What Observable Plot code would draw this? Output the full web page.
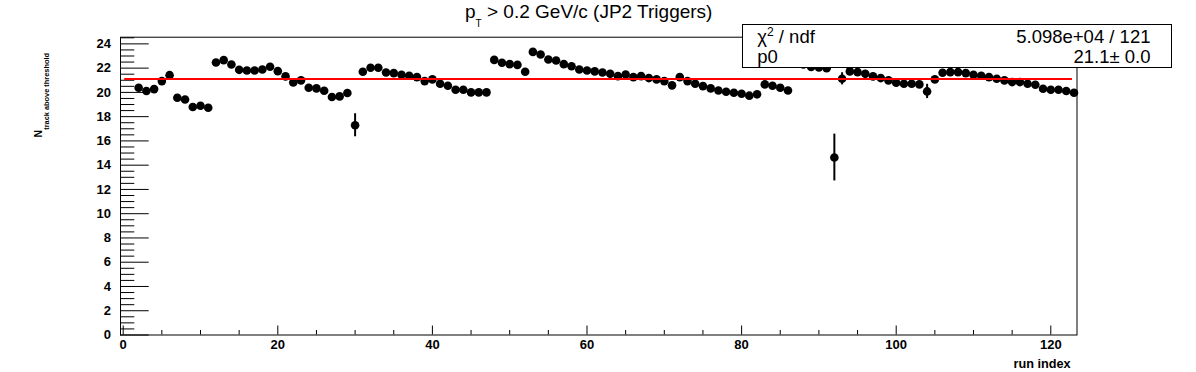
<!DOCTYPE html>
<html><head><meta charset="utf-8">
<script src="https://cdn.jsdelivr.net/npm/d3@7"></script>
<script src="https://cdn.jsdelivr.net/npm/@observablehq/plot@0.6"></script>
<style>
html,body{margin:0;padding:0;background:#fff;}
#chart{position:relative;width:1196px;height:372px;}
#chart g[aria-label="y-axis tick label"] text, #chart g[aria-label="x-axis tick label"] text{font-weight:bold;}
</style></head><body><div id="chart"></div>
<script>
// ---- data ----
const runIndex = [2,3,4,5,6,7,8,9,10,11,12,13,14,15,16,17,18,19,20,21,22,23,24,25,26,27,28,29,30,31,32,33,34,35,36,37,38,39,40,41,42,43,44,45,46,47,48,49,50,51,52,53,54,55,56,57,58,59,60,61,62,63,64,65,66,67,68,69,70,71,72,73,74,75,76,77,78,79,80,81,82,83,84,85,86,87,88,89,90,91,92,93,94,95,96,97,98,99,100,101,102,103,104,105,106,107,108,109,110,111,112,113,114,115,116,117,118,119,120,121,122,123];
const nTrack = [20.38,20.11,20.27,20.93,21.42,19.56,19.42,18.79,18.90,18.74,
  22.47,22.66,22.30,21.86,21.81,21.81,21.89,22.11,21.75,21.32,
  20.82,20.99,20.38,20.33,20.14,19.62,19.67,19.95,17.29,21.70,
  22.03,22.03,21.64,21.59,21.45,21.37,21.26,20.93,21.07,20.71,
  20.55,20.22,20.22,20.00,20.00,20.00,22.68,22.44,22.33,22.27,
  21.70,23.34,23.12,22.71,22.63,22.33,22.16,21.89,21.81,21.73,
  21.64,21.53,21.34,21.48,21.26,21.34,21.18,21.07,20.93,20.58,
  21.26,20.93,20.71,20.52,20.33,20.16,20.05,19.97,19.89,19.73,
  19.84,20.66,20.55,20.38,20.16,22.50,22.30,22.10,22.05,22.00,
  14.63,21.12,21.73,21.67,21.53,21.32,21.18,20.99,20.79,20.71,
  20.71,20.66,20.08,21.07,21.62,21.67,21.67,21.59,21.45,21.37,
  21.26,21.12,20.99,20.85,20.85,20.71,20.63,20.30,20.22,20.22,
  20.11,19.97];
const nTrackErr = [0.15,0.15,0.15,0.15,0.15,0.15,0.15,0.15,0.15,0.15,
  0.15,0.15,0.15,0.15,0.15,0.15,0.15,0.15,0.15,0.15,
  0.15,0.15,0.15,0.15,0.15,0.15,0.15,0.15,0.95,0.15,
  0.15,0.15,0.15,0.15,0.15,0.15,0.15,0.15,0.15,0.15,
  0.15,0.15,0.15,0.15,0.15,0.15,0.15,0.15,0.15,0.15,
  0.15,0.15,0.15,0.15,0.15,0.15,0.15,0.15,0.15,0.15,
  0.15,0.15,0.15,0.15,0.15,0.15,0.15,0.15,0.15,0.15,
  0.15,0.15,0.15,0.15,0.15,0.15,0.15,0.15,0.15,0.15,
  0.15,0.15,0.15,0.15,0.15,0.15,0.15,0.15,0.15,0.15,
  1.93,0.50,0.15,0.15,0.15,0.15,0.15,0.15,0.15,0.15,
  0.15,0.15,0.59,0.15,0.15,0.15,0.15,0.15,0.15,0.15,
  0.15,0.15,0.15,0.15,0.15,0.15,0.15,0.15,0.15,0.15,
  0.15,0.15];
const xTicks = [0,20,40,60,80,100,120];
const yTicks = [0,2,4,6,8,10,12,14,16,18,20,22,24];
const fitP0 = 21.1;
const fitRange = [0.2, 122.8];
const titleMain = "p", titleSub = "T", titleRest = " > 0.2 GeV/c (JP2 Triggers)";
const xTitle = "run index";
const yTitleMain = "N", yTitleSub = "track above threshold";
const statRows = [["χ", "2", " / ndf", "5.098e+04 / 121"], ["p0", "", "", "21.1\u00b1 0.0"]];

// ---- layout ----
const W = 1196, H = 372, mL = 120, mR = 119.5, mT = 36.7, mB = 37.5;
const frameW = W - mL - mR, frameH = H - mT - mB;
const FONT = "'Liberation Sans', Arial, Helvetica, sans-serif";
const rows = runIndex.map((x, k) => ({x, y: nTrack[k], e: nTrackErr[k]}));
const xMinor = d3.range(0, 121, 5).filter(v => v % 20 !== 0);
const yMinor = d3.range(0, 50).map(k => k * 0.5).filter(v => v % 2 !== 0);

const plot = Plot.plot({
  width: W, height: H,
  marginLeft: mL, marginRight: mR, marginTop: mT, marginBottom: mB,
  style: {fontFamily: FONT, background: "white", overflow: "visible"},
  x: {domain: [-0.35, 123.39]},
  y: {domain: [0, 24.55]},
  marks: [
    Plot.tickY(yMinor, {y: d => d, insetRight: frameW - 14.3, stroke: "black", strokeWidth: 1}),
    Plot.tickY(yTicks, {y: d => d, insetRight: frameW - 28.7, stroke: "black", strokeWidth: 1}),
    Plot.tickX(xMinor, {x: d => d, insetTop: frameH - 4.5, stroke: "black", strokeWidth: 1}),
    Plot.tickX(xTicks, {x: d => d, insetTop: frameH - 9, stroke: "black", strokeWidth: 1}),
    Plot.axisY(yTicks, {tickSize: 0, tickPadding: 9.5, fontSize: 13, fontWeight: "bold", label: null, fill: "black"}),
    Plot.axisX(xTicks, {tickSize: 0, tickPadding: 5, fontSize: 13, fontWeight: "bold", label: null, fill: "black"}),
    Plot.frame({stroke: "black", strokeWidth: 1}),
    Plot.ruleX(rows, {x: "x", y1: d => d.y - d.e, y2: d => d.y + d.e, stroke: "black", strokeWidth: 2}),
    Plot.dot(rows, {x: "x", y: "y", r: 4.3, fill: "black", stroke: "none"}),
    Plot.ruleY([{y: fitP0, x1: fitRange[0], x2: fitRange[1]}], {y: "y", x1: "x1", x2: "x2", stroke: "#ff0000", strokeWidth: 2})
  ]
});
document.getElementById("chart").appendChild(plot);

const svg = d3.select(plot);
// title
const t = svg.append("text").attr("x", 465).attr("y", 18).attr("text-anchor", "start")
  .attr("font-family", FONT).attr("font-size", 19).attr("fill", "black");
t.append("tspan").attr("fill", "black").text(titleMain);
t.append("tspan").attr("fill", "black").attr("font-size", 10).attr("dy", 8.5).text(titleSub);
t.append("tspan").attr("fill", "black").attr("dy", -8.5).text(titleRest);
// x title
svg.append("text").attr("x", 1070.7).attr("y", 368).attr("text-anchor", "end")
  .attr("font-family", FONT).attr("font-size", 12.7).attr("font-weight", "bold").attr("fill", "black").text(xTitle);
// y title
const yt = svg.append("text").attr("transform", "translate(42,53) rotate(-90)").attr("text-anchor", "end")
  .attr("font-family", FONT).attr("font-weight", "bold").attr("fill", "black");
yt.append("tspan").attr("font-size", 10.5).text(yTitleMain);
yt.append("tspan").attr("font-size", 7.4).attr("dy", 6.5).text(yTitleSub);
// stats box
const g = svg.append("g");
g.append("rect").attr("x", 742.5).attr("y", 24.5).attr("width", 429).attr("height", 43).attr("fill", "white").attr("stroke", "black").attr("stroke-width", 1);
const baselines = [42.5, 62.7];
statRows.forEach((r, k) => {
  const lt = g.append("text").attr("x", 757.3).attr("y", baselines[k]).attr("text-anchor", "start")
    .attr("font-family", FONT).attr("font-size", 18.5).attr("fill", "black");
  lt.append("tspan").text(r[0]);
  if (r[1]) {
    lt.append("tspan").attr("font-size", 12).attr("dy", -7).text(r[1]);
    lt.append("tspan").attr("dy", 7).text(r[2]);
  }
  g.append("text").attr("x", 1150.5).attr("y", baselines[k]).attr("text-anchor", "end").attr("font-family", FONT).attr("font-size", 18.5).attr("fill", "black").text(r[3]);
});
</script></body></html>
